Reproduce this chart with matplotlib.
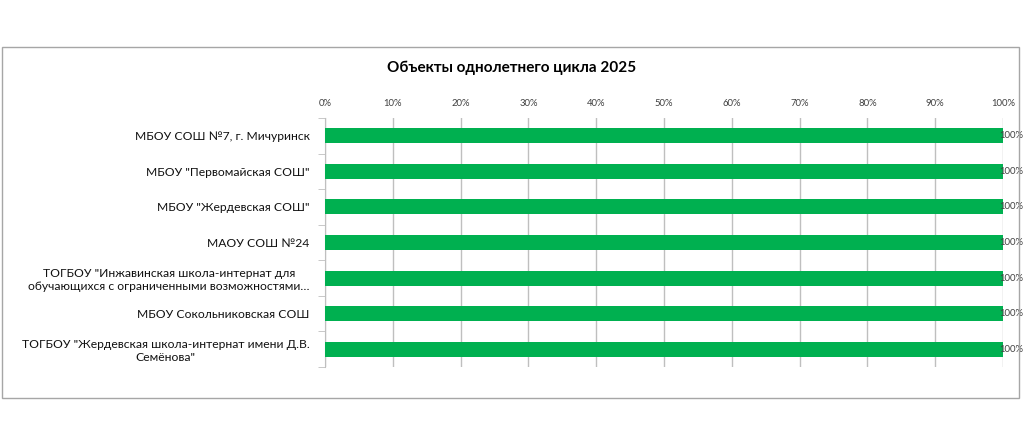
import numpy as np
import matplotlib.pyplot as plt
from matplotlib.patches import Rectangle
from matplotlib.ticker import MultipleLocator, PercentFormatter

plt.rcParams['font.family'] = ['Lato', 'DejaVu Sans']

title = 'Объекты однолетнего цикла 2025'
schools = [
    'МБОУ СОШ №7, г. Мичуринск',
    'МБОУ "Первомайская СОШ"',
    'МБОУ "Жердевская СОШ"',
    'МАОУ СОШ №24',
    'ТОГБОУ "Инжавинская школа-интернат для\nобучающихся с ограниченными возможностями…',
    'МБОУ Сокольниковская СОШ',
    'ТОГБОУ "Жердевская школа-интернат имени Д.В.\nСемёнова"',
]
share = [100, 100, 100, 100, 100, 100, 100]
labels = ['100%'] * len(share)

green = '#00B050'
grid = '#BFBFBF'

fig = plt.figure(figsize=(10.24, 4.45), dpi=100)
fig.patches.append(Rectangle((2 / 1024, 1 - 398 / 445), 1017 / 1024, 351 / 445,
                             transform=fig.transFigure, fill=False,
                             edgecolor='#A6A6A6', linewidth=1))

ax = fig.add_axes([325 / 1024, 1 - 367 / 445, 678 / 1024, 249 / 445])
y = np.arange(len(schools))
ax.barh(y, share, height=0.42, color=green, zorder=3)
for yi, v, t in zip(y, share, labels):
    ax.text(v - 0.6, yi, t, va='center', ha='left', fontsize=6.8, color='#404040', zorder=4)

ax.set_xlim(0, 100)
ax.set_ylim(len(schools) - 0.5, -0.5)
ax.xaxis.set_major_locator(MultipleLocator(10))
ax.xaxis.set_major_formatter(PercentFormatter(decimals=0))
ax.xaxis.tick_top()
ax.tick_params(axis='x', length=0, labelsize=6.8, pad=7, colors='#404040')
ax.grid(axis='x', color=grid, linewidth=1, zorder=0)

ax.set_yticks(y)
ax.set_yticklabels(schools, fontsize=8.7, color='#111111', ha='right',
                   multialignment='center')
ax.set_yticks(np.arange(len(schools) + 1) - 0.5, minor=True)
ax.tick_params(axis='y', which='major', length=0, pad=11)
ax.tick_params(axis='y', which='minor', length=5, color=grid)
for s in ['top', 'right', 'bottom']:
    ax.spines[s].set_visible(False)
ax.spines['left'].set_color(grid)

fig.text(512 / 1024, 1 - 68 / 445, title, ha='center', va='center',
         fontsize=11, fontweight='bold', color='#000000')

fig.savefig('out.png', dpi=100)
